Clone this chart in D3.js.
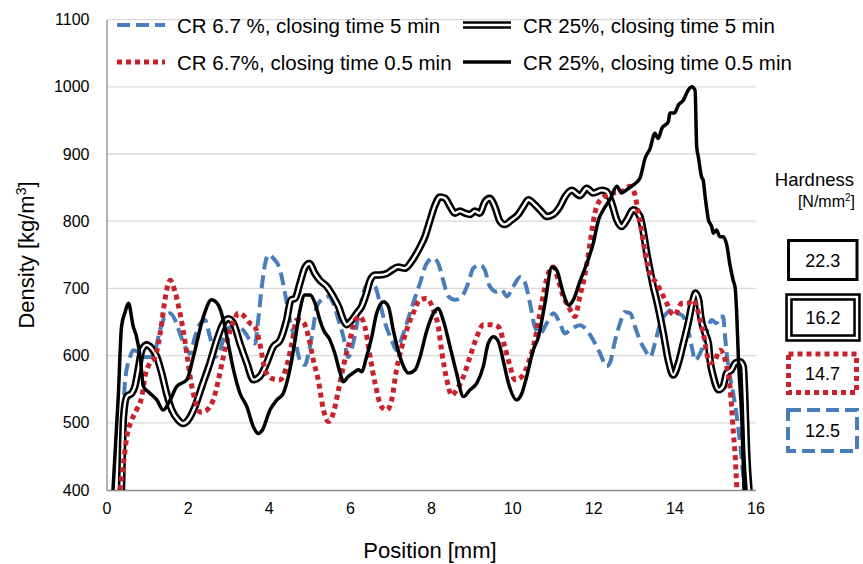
<!DOCTYPE html>
<html>
<head>
<meta charset="utf-8">
<script src="https://cdn.jsdelivr.net/npm/d3@7"></script>
<style>
  html, body { margin: 0; padding: 0; background: #fff; }
  svg { display: block; font-family: "Liberation Sans", Arial, sans-serif; }
</style>
</head>
<body>
<svg id="chart" width="863" height="564"></svg>
<script>
// Density profiles across the board thickness
const xTicks = [0, 2, 4, 6, 8, 10, 12, 14, 16];
const yTicks = [400, 500, 600, 700, 800, 900, 1000, 1100];

const seriesNames = [
  "CR 6.7 %, closing time 5 min",
  "CR 25%, closing time 5 min",
  "CR 6.7%, closing time 0.5 min",
  "CR 25%, closing time 0.5 min"
];

// CR 6.7 %, closing time 5 min
const posBlue = [0.37,0.46,0.58,0.66,0.78,0.9,1.07,1.2,1.32,1.44,1.57,1.69,1.81,1.94,2.06,2.18,2.31,2.43,2.55,2.68,2.8,2.92,3.09,3.25,3.37,3.54,3.66,3.74,3.83,3.91,3.99,4.11,4.28,4.4,4.52,4.65,4.77,4.89,4.98,5.1,5.18,5.3,5.47,5.59,5.72,5.84,5.96,6.08,6.21,6.33,6.46,6.62,6.74,6.87,7.03,7.15,7.23,7.4,7.56,7.73,7.89,8.06,8.18,8.3,8.43,8.59,8.76,8.92,9.04,9.21,9.33,9.45,9.62,9.74,9.87,10.03,10.2,10.32,10.44,10.56,10.69,10.85,11.02,11.18,11.3,11.47,11.67,11.84,12.0,12.17,12.33,12.41,12.54,12.66,12.78,12.91,13.03,13.15,13.28,13.4,13.52,13.65,13.81,13.97,14.1,14.22,14.34,14.43,14.51,14.63,14.76,14.84,14.92,15.04,15.12,15.2,15.25,15.29,15.37,15.45,15.54,15.62,15.7,15.73];
const denBlue = [400,564,598,608,605,598,598,608,638,658,663,653,633,613,603,628,648,653,628,598,608,633,643,643,638,623,618,653,703,737,750,745,727,693,653,623,593,586,603,643,673,683,688,678,653,628,598,618,658,693,708,703,678,648,623,608,618,648,678,708,737,745,737,712,688,683,688,708,730,735,727,703,695,698,688,703,717,708,678,643,633,648,663,648,633,640,645,638,623,603,584,589,623,648,665,663,643,623,608,598,618,648,663,670,663,658,638,613,593,603,623,643,653,648,658,658,628,603,569,544,509,469,420,400];

// CR 25%, closing time 5 min
const posDouble = [0.37,0.42,0.5,0.62,0.7,0.78,0.87,0.99,1.11,1.24,1.36,1.48,1.61,1.77,1.89,2.01,2.18,2.35,2.55,2.72,2.88,3.0,3.13,3.29,3.46,3.62,3.78,3.95,4.11,4.28,4.44,4.55,4.65,4.77,4.9,5.0,5.14,5.26,5.43,5.59,5.72,5.84,5.92,6.05,6.17,6.29,6.41,6.5,6.62,6.74,6.91,7.03,7.19,7.36,7.52,7.69,7.85,7.98,8.1,8.22,8.35,8.47,8.59,8.71,8.84,8.96,9.08,9.2,9.33,9.45,9.57,9.7,9.82,9.99,10.15,10.28,10.4,10.57,10.73,10.85,11.01,11.18,11.3,11.47,11.67,11.84,12.0,12.21,12.33,12.46,12.58,12.7,12.83,12.99,13.15,13.24,13.32,13.4,13.48,13.56,13.73,13.85,13.97,14.1,14.22,14.34,14.46,14.52,14.6,14.65,14.76,14.84,14.88,14.96,15.09,15.2,15.29,15.41,15.5,15.62,15.7,15.74,15.78,15.84];
const denDouble = [400,509,539,544,554,579,608,616,611,598,574,544,519,504,499,504,524,554,589,623,648,655,648,618,589,564,569,589,613,623,653,683,685,708,732,737,722,712,703,688,673,653,646,653,663,673,693,712,720,720,722,727,732,730,740,757,777,802,824,836,834,822,812,815,812,810,815,812,829,834,822,800,795,802,810,822,832,824,814,807,810,822,836,846,838,849,842,846,844,826,802,792,802,817,807,782,752,727,703,683,633,593,571,589,618,648,683,693,683,658,633,618,593,569,549,554,574,579,589,591,584,534,460,400];

// CR 6.7%, closing time 0.5 min
const posRed = [0.33,0.42,0.5,0.62,0.74,0.87,0.95,1.07,1.2,1.28,1.36,1.44,1.57,1.69,1.77,1.89,1.98,2.06,2.18,2.31,2.47,2.63,2.76,2.88,3.0,3.13,3.25,3.37,3.54,3.66,3.78,3.91,4.07,4.28,4.44,4.57,4.69,4.85,4.98,5.1,5.22,5.35,5.47,5.59,5.72,5.84,6.0,6.13,6.25,6.37,6.5,6.62,6.78,6.91,7.03,7.15,7.28,7.4,7.56,7.73,7.89,8.06,8.18,8.26,8.39,8.51,8.63,8.8,8.96,9.13,9.29,9.49,9.66,9.82,9.95,10.07,10.24,10.4,10.56,10.73,10.89,11.02,11.14,11.26,11.39,11.55,11.67,11.8,11.92,12.04,12.21,12.37,12.5,12.7,12.91,13.03,13.11,13.2,13.28,13.4,13.56,13.69,13.81,13.93,14.01,14.18,14.34,14.46,14.55,14.65,14.73,14.8,14.88,15.0,15.12,15.2,15.29,15.37,15.41,15.45,15.5,15.54];
const denRed = [400,440,479,504,519,539,569,589,598,618,648,683,712,695,675,638,603,569,534,516,519,534,564,598,628,650,663,660,648,643,618,579,566,564,584,618,653,650,628,593,564,519,502,514,549,584,623,653,658,643,598,559,524,519,534,579,613,638,663,683,685,668,643,608,564,541,549,569,598,628,646,646,643,613,584,564,569,589,623,678,722,732,712,688,673,658,688,722,767,812,834,839,842,844,852,839,812,782,752,722,708,693,678,663,660,678,678,683,673,648,628,603,589,593,608,603,584,554,524,489,450,400];

// CR 25%, closing time 0.5 min
const posSolid = [0.16,0.29,0.37,0.46,0.54,0.66,0.74,0.83,0.91,1.07,1.24,1.40,1.57,1.73,1.98,2.14,2.39,2.59,2.76,2.88,3.0,3.13,3.29,3.46,3.62,3.74,3.84,4.03,4.2,4.36,4.52,4.65,4.77,4.89,5.02,5.14,5.26,5.35,5.51,5.63,5.76,5.84,5.96,6.08,6.21,6.29,6.41,6.54,6.66,6.83,6.95,7.07,7.19,7.32,7.44,7.61,7.73,7.89,8.06,8.18,8.3,8.47,8.63,8.8,8.96,9.13,9.29,9.41,9.54,9.66,9.78,9.91,10.11,10.24,10.36,10.52,10.65,10.81,10.98,11.1,11.26,11.39,11.51,11.67,11.84,12.0,12.13,12.25,12.41,12.58,12.7,12.83,12.99,13.15,13.28,13.4,13.52,13.6,13.69,13.85,13.89,14.0,14.1,14.22,14.34,14.43,14.51,14.55,14.59,14.67,14.71,14.76,14.84,14.92,14.96,15.04,15.12,15.2,15.29,15.37,15.45,15.5,15.54,15.58,15.66,15.72];
const denSolid = [400,539,643,665,678,643,628,598,554,544,534,519,534,554,564,598,658,683,675,653,618,579,544,524,494,484,489,519,534,544,579,623,668,690,690,678,653,638,623,603,574,561,569,574,579,576,598,628,663,680,673,638,608,584,574,579,598,636,663,670,653,613,574,539,549,559,584,618,628,621,593,559,534,544,569,608,628,678,732,727,693,675,683,710,737,767,802,817,832,852,842,847,854,864,894,908,931,923,938,948,961,961,973,980,995,1000,995,911,896,866,861,836,802,792,782,787,777,777,765,735,712,700,658,593,509,400];

// Hardness [N/mm²] per series, listed top to bottom
const hardnessValues = ["22.3", "16.2", "14.7", "12.5"];

const BLUE = "#4a7ebb";
const RED = "#c8232c";

const svg = d3.select("#chart");
const plot = { left: 106.5, right: 755.5, top: 19.6, bottom: 490 };

const x = d3.scaleLinear().domain([0, 16]).range([plot.left, plot.right]);
const y = d3.scaleLinear().domain([400, 1100]).range([plot.bottom, plot.top]);

// gridlines
svg.append("g")
  .selectAll("line")
  .data(yTicks.slice(1))
  .join("line")
  .attr("x1", plot.left).attr("x2", plot.right)
  .attr("y1", d => y(d)).attr("y2", d => y(d))
  .attr("stroke", "#d9d9d9").attr("stroke-width", 1.3);

// axes
const xAxis = svg.append("g")
  .attr("transform", `translate(0,${plot.bottom})`)
  .call(d3.axisBottom(x).tickValues(xTicks).tickSize(0).tickPadding(13).tickFormat(d3.format("d")));
const yAxis = svg.append("g")
  .attr("transform", `translate(${plot.left},0)`)
  .call(d3.axisLeft(y).tickValues(yTicks).tickSize(0).tickPadding(17).tickFormat(d3.format("d")));
[xAxis, yAxis].forEach(a => {
  a.select(".domain").attr("stroke", "#8c8c8c").attr("stroke-width", 1.3);
  a.selectAll("text").attr("font-size", 16).attr("fill", "#000")
    .attr("font-family", "'Liberation Sans', Arial, sans-serif");
});

// axis titles
svg.append("text")
  .attr("x", (plot.left + plot.right) / 2 - 1).attr("y", 558)
  .attr("text-anchor", "middle").attr("font-size", 22).text("Position [mm]");
const yTitle = svg.append("text")
  .attr("transform", "translate(34,255) rotate(-90)")
  .attr("text-anchor", "middle").attr("font-size", 22);
yTitle.append("tspan").text("Density [kg/m");
yTitle.append("tspan").attr("font-size", 14).attr("dy", -8).text("3");
yTitle.append("tspan").attr("dy", 8).text("]");

// clip to plot area
svg.append("clipPath").attr("id", "plotClip")
  .append("rect")
  .attr("x", plot.left).attr("y", plot.top - 2)
  .attr("width", plot.right - plot.left + 4).attr("height", plot.bottom - plot.top + 2);

const line = d3.line()
  .x(d => x(d[0])).y(d => y(d[1]))
  .curve(d3.curveMonotoneX);

const zip = (a, b) => a.map((v, i) => [v, b[i]]);

const styles = {
  blue:   [{ stroke: BLUE, width: 4, dash: "13,6" }],
  double: [{ stroke: "#000", width: 7.5 }, { stroke: "#fff", width: 2.4 }],
  red:    [{ stroke: RED, width: 5, dash: "5,4" }],
  solid:  [{ stroke: "#000", width: 3.5 }]
};

const series = [
  { key: "blue", data: zip(posBlue, denBlue) },
  { key: "double", data: zip(posDouble, denDouble) },
  { key: "red", data: zip(posRed, denRed) },
  { key: "solid", data: zip(posSolid, denSolid) }
];

const lines = svg.append("g").attr("clip-path", "url(#plotClip)");
series.forEach(s => {
  styles[s.key].forEach(st => {
    lines.append("path")
      .attr("d", line(s.data))
      .attr("fill", "none")
      .attr("stroke", st.stroke)
      .attr("stroke-width", st.width)
      .attr("stroke-dasharray", st.dash || null)
      .attr("stroke-linejoin", "round");
  });
});

// legend: two columns, two rows
const legendItems = [
  { key: "blue", name: seriesNames[0], lx: 117, ly: 25 },
  { key: "double", name: seriesNames[1], lx: 463, ly: 25 },
  { key: "red", name: seriesNames[2], lx: 117, ly: 62 },
  { key: "solid", name: seriesNames[3], lx: 463, ly: 62 }
];
const legend = svg.append("g");
legendItems.forEach(it => {
  styles[it.key].forEach(st => {
    legend.append("line")
      .attr("x1", it.lx).attr("x2", it.lx + 48)
      .attr("y1", it.ly).attr("y2", it.ly)
      .attr("stroke", st.stroke).attr("stroke-width", st.width)
      .attr("stroke-dasharray", st.dash || null);
  });
  legend.append("text")
    .attr("x", it.lx + 60).attr("y", it.ly + 7.5)
    .attr("font-size", 20.5).text(it.name);
});

// hardness boxes
const hard = svg.append("g");
hard.append("text").attr("x", 854).attr("y", 186).attr("text-anchor", "end")
  .attr("font-size", 18.5).text("Hardness");
const unit = hard.append("text").attr("x", 855).attr("y", 207).attr("text-anchor", "end")
  .attr("font-size", 16);
unit.append("tspan").text("[N/mm");
unit.append("tspan").attr("font-size", 10).attr("dy", -6).text("2");
unit.append("tspan").attr("dy", 6).text("]");

const boxStyles = ["solid", "double", "red", "blue"];
const boxRects = [
  { x: 788.5, y: 240.5, w: 68.5, h: 39 },
  { x: 789, y: 297, w: 68, h: 41 },
  { x: 788.5, y: 354, w: 68, h: 38.5 },
  { x: 788, y: 410, w: 69, h: 41 }
];
boxRects.forEach((r, i) => {
  const st = boxStyles[i] === "solid" ? [{ stroke: "#000", width: 3 }] : styles[boxStyles[i]];
  st.forEach(s => {
    hard.append("rect")
      .attr("x", r.x).attr("y", r.y).attr("width", r.w).attr("height", r.h)
      .attr("fill", "none").attr("stroke", s.stroke).attr("stroke-width", s.width)
      .attr("stroke-dasharray", s.dash || null);
  });
  hard.append("text")
    .attr("x", r.x + r.w / 2).attr("y", r.y + r.h / 2 + 6.5)
    .attr("text-anchor", "middle").attr("font-size", 18).text(hardnessValues[i]);
});
</script>
</body>
</html>
